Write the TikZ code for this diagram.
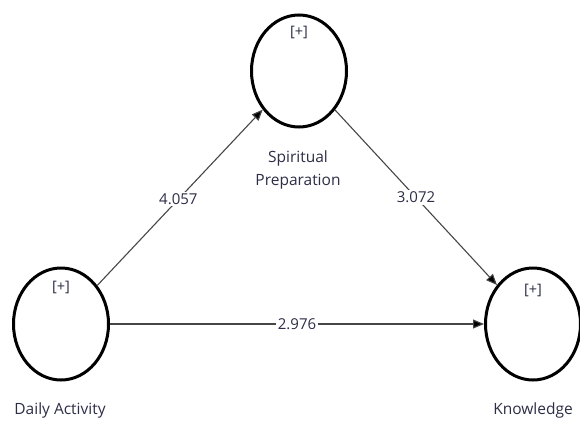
\documentclass[tikz,border=0pt]{standalone}
\usepackage{fontspec}
\setmainfont{Open Sans}
\usetikzlibrary{arrows.meta,shapes.geometric}
\definecolor{txt}{RGB}{45,45,70}
\definecolor{edge}{RGB}{70,70,70}
\begin{document}
\begin{tikzpicture}[x=1pt,y=-1pt,
  lv/.style={draw=black,line width=3pt,ellipse,minimum width=95pt,minimum height=112pt,inner sep=0pt},
  plus/.style={font=\fontsize{14.5}{16}\selectfont,text=txt},
  lvname/.style={font=\fontsize{15.5}{23}\selectfont,text=txt,align=center},
  conn/.style={draw=edge,line width=1.1pt,-{Triangle[length=11pt,width=9pt,fill=black]}},
  wt/.style={fill=white,inner sep=1.5pt,font=\fontsize{15}{18}\selectfont,text=txt}]
\useasboundingbox (0,0) rectangle (580,423);
\node[lv] (sp) at (299,71) {};
\node[lv] (da) at (61,324) {};
\node[lv] (kn) at (533,324) {};
\node[plus] (spp) at (299,32) {[+]};
\node[plus] (dap) at (61,287) {[+]};
\node[plus] (knp) at (533,290) {[+]};
\node[lvname] (spn) at (298,170) {Spiritual\\Preparation};
\node[lvname] (dan) at (60,410) {Daily Activity};
\node[lvname] (knn) at (533,410) {Knowledge};
\draw[conn] (da) -- node[wt,pos=0.49] (w1) {4.057} (sp);
\draw[conn] (sp) -- node[wt,pos=0.5] (w2) {3.072} (kn);
\draw[conn] (da) -- node[wt,pos=0.5] (w3) {2.976} (kn);
\end{tikzpicture}
\end{document}
